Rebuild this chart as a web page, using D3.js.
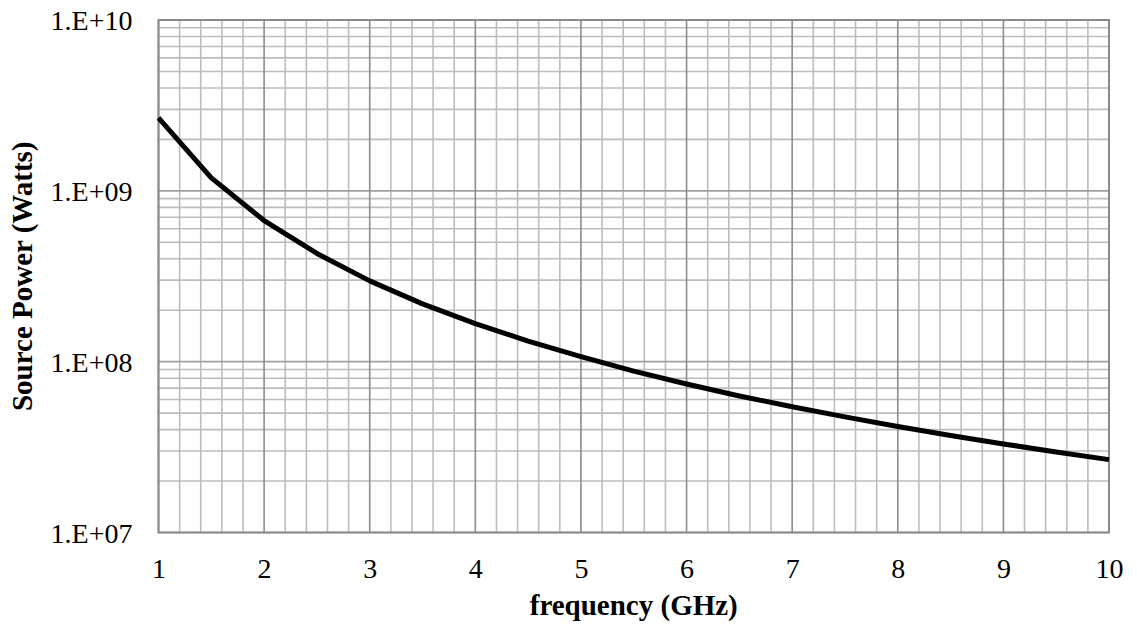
<!DOCTYPE html>
<html>
<head>
<meta charset="utf-8">
<script src="https://cdn.jsdelivr.net/npm/d3@7"></script>
<style>
  html, body { margin: 0; padding: 0; background: #fff; }
  svg { display: block; }
</style>
</head>
<body>
<script>
// Data
const frequency = [1, 1.5, 2, 2.5, 3, 3.5, 4, 4.5, 5, 5.5, 6, 6.5, 7, 7.5, 8, 8.5, 9, 9.5, 10];
const sourcePower = [2.67e9, 1.19e9, 6.7e8, 4.3e8, 2.97e8, 2.18e8, 1.67e8, 1.32e8, 1.07e8, 8.8e7,
                     7.4e7, 6.3e7, 5.45e7, 4.75e7, 4.17e7, 3.7e7, 3.3e7, 2.96e7, 2.67e7];
const xTicks = [1, 2, 3, 4, 5, 6, 7, 8, 9, 10];
const yTicks = [1e7, 1e8, 1e9, 1e10];
const yTickLabels = ["1.E+07", "1.E+08", "1.E+09", "1.E+10"];
const xTitle = "frequency (GHz)";
const yTitle = "Source Power (Watts)";

const W = 1137, H = 635;
const m = { left: 158.5, right: 1109, top: 20, bottom: 532.5 };

const svg = d3.select("body").append("svg").attr("width", W).attr("height", H);

const x = d3.scaleLinear().domain([1, 10]).range([m.left, m.right]);
const y = d3.scaleLog().domain([1e7, 1e10]).range([m.bottom, m.top]);

const grid = svg.append("g");

// minor vertical grid (every 0.2)
const xMinor = d3.range(1, 10.0001, 0.2).map(v => Math.round(v * 10) / 10).filter(v => !xTicks.includes(v));
grid.selectAll("line.xminor").data(xMinor).join("line")
  .attr("x1", d => x(d)).attr("x2", d => x(d))
  .attr("y1", m.top).attr("y2", m.bottom)
  .attr("stroke", "#bdbdbd").attr("stroke-width", 1.6);

// minor horizontal grid (log 2..9)
const yMinor = [];
[1e7, 1e8, 1e9].forEach(d => { for (let k = 2; k <= 9; k++) yMinor.push(d * k); });
grid.selectAll("line.yminor").data(yMinor).join("line")
  .attr("x1", m.left).attr("x2", m.right)
  .attr("y1", d => y(d)).attr("y2", d => y(d))
  .attr("stroke", "#bdbdbd").attr("stroke-width", 1.6);

// major horizontal grid
grid.selectAll("line.ymajor").data(yTicks).join("line")
  .attr("x1", m.left).attr("x2", m.right)
  .attr("y1", d => y(d)).attr("y2", d => y(d))
  .attr("stroke", "#a0a0a0").attr("stroke-width", 1.6);

// major vertical grid
grid.selectAll("line.xmajor").data(xTicks).join("line")
  .attr("x1", d => x(d)).attr("x2", d => x(d))
  .attr("y1", m.top).attr("y2", m.bottom)
  .attr("stroke", "#8c8c8c").attr("stroke-width", 1.6);

// plot border
svg.append("rect")
  .attr("x", m.left).attr("y", m.top)
  .attr("width", m.right - m.left).attr("height", m.bottom - m.top)
  .attr("fill", "none").attr("stroke", "#8a8a8a").attr("stroke-width", 2);

// axes via d3 axis (text only)
const xAxis = svg.append("g")
  .attr("transform", `translate(0,${m.bottom})`)
  .call(d3.axisBottom(x).tickValues(xTicks).tickSize(0).tickPadding(0).tickFormat(d3.format("d")));
xAxis.select(".domain").remove();
xAxis.selectAll("text")
  .attr("y", 45).attr("dy", null)
  .attr("font-family", "'Liberation Serif', 'Times New Roman', serif")
  .attr("font-size", 28).attr("fill", "#000");

const yAxis = svg.append("g")
  .attr("transform", `translate(${m.left},0)`)
  .call(d3.axisLeft(y).tickValues(yTicks).tickSize(0).tickPadding(0)
    .tickFormat((d, i) => yTickLabels[i]));
yAxis.select(".domain").remove();
yAxis.selectAll("text")
  .attr("x", -26).attr("dy", "0.35em")
  .attr("font-family", "'Liberation Serif', 'Times New Roman', serif")
  .attr("font-size", 28).attr("fill", "#000");

// data line
const line = d3.line()
  .x((d, i) => x(frequency[i]))
  .y(d => y(d));
svg.append("path")
  .datum(sourcePower)
  .attr("d", line)
  .attr("fill", "none")
  .attr("stroke", "#000")
  .attr("stroke-width", 5)
  .attr("stroke-linejoin", "round");

// titles
svg.append("text")
  .attr("x", (m.left + m.right) / 2).attr("y", 615)
  .attr("text-anchor", "middle")
  .attr("font-family", "'Liberation Serif', 'Times New Roman', serif")
  .attr("font-weight", "bold").attr("font-size", 29)
  .text(xTitle);

svg.append("text")
  .attr("transform", `translate(32,${(m.top + m.bottom) / 2}) rotate(-90)`)
  .attr("text-anchor", "middle")
  .attr("font-family", "'Liberation Serif', 'Times New Roman', serif")
  .attr("font-weight", "bold").attr("font-size", 29)
  .text(yTitle);
</script>
</body>
</html>
